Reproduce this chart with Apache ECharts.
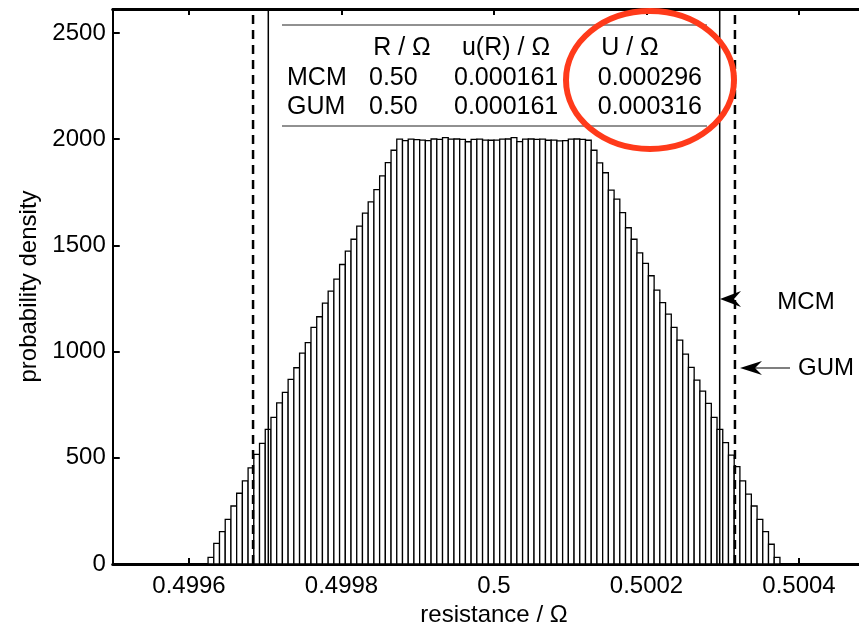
<!DOCTYPE html>
<html>
<head>
<meta charset="utf-8">
<script src="https://cdn.jsdelivr.net/npm/echarts@6/dist/echarts.min.js"></script>
<style>html,body{margin:0;padding:0;background:#fff;}#chart{width:859px;height:625px;}</style>
</head>
<body>
<div id="chart"></div>
<script>
// ---- data ----
const binStart = 0.499625;
const binWidth = 0.0000075;
const density = [31,97,152,210,273,333,391,453,516,568,634,690,759,808,869,924,993,1042,1114,1164,1228,1285,1341,1410,1473,1529,1591,1652,1705,1763,1827,1890,1948,
  2000,1993,2000,1998,1996,1993,2001,1999,2007,2000,2001,1999,1988,1999,2000,1996,1995,1996,2000,2001,2007,1989,2000,2001,1999,2000,1995,1996,1992,1993,2000,2001,1999,1995,
  1948,1889,1842,1760,1718,1654,1583,1529,1465,1415,1357,1289,1231,1176,1114,1054,988,926,866,814,756,690,634,571,513,458,391,329,273,210,152,93,31];
const xTickValues = [0.4996, 0.4998, 0.5, 0.5002, 0.5004];
const xTickLabels = ['0.4996', '0.4998', '0.5', '0.5002', '0.5004'];
const yTickValues = [0, 500, 1000, 1500, 2000, 2500];
const methods = ['MCM', 'GUM'];
const meanR = [0.50, 0.50];
const stdU = ['0.000161', '0.000161'];
const expandedU = [0.000296, 0.000316];
const tableHeader = ['R / \u03A9', 'u(R) / \u03A9', 'U / \u03A9'];

const FONT = "'Liberation Sans', Arial, Helvetica, sans-serif";
const Y_MAX = 2613;
const chart = echarts.init(document.getElementById('chart'), null, {renderer: 'canvas'});

const bins = density.map((d, i) => [binStart + i * binWidth, binStart + (i + 1) * binWidth, d]);
const xLabelMap = {};
xTickValues.forEach((v, i) => { xLabelMap[v.toFixed(4)] = xTickLabels[i]; });

function vLine(x, style) {
  return {type: 'line', xAxisIndex: 0, yAxisIndex: 0, z: 4, symbol: 'none', silent: true,
    data: [[x, 0], [x, Y_MAX]], lineStyle: style};
}

const option = {
  backgroundColor: '#fff',
  animation: false,
  grid: {left: 112.75, width: 762.5, top: 9, bottom: 61, containLabel: false, outerBoundsMode: 'none'},
  xAxis: [{
    type: 'value', min: 0.4995, max: 0.5005, position: 'bottom',
    name: 'resistance / \u03A9', nameLocation: 'middle', nameGap: 35,
    nameTextStyle: {fontFamily: FONT, fontSize: 24, color: '#000'},
    axisLine: {show: true, lineStyle: {color: '#000', width: 3}},
    axisTick: {show: true, inside: true, length: 6, customValues: xTickValues, lineStyle: {color: '#000', width: 2}},
    axisLabel: {show: true, customValues: xTickValues, margin: 10, fontFamily: FONT, fontSize: 24, color: '#000',
      formatter: v => xLabelMap[Number(v).toFixed(4)] || ''},
    splitLine: {show: false}
  }, {
    type: 'value', min: 0.4995, max: 0.5005, position: 'top',
    axisLine: {show: true, lineStyle: {color: '#000', width: 3}},
    axisTick: {show: true, inside: true, length: 6, customValues: xTickValues, lineStyle: {color: '#000', width: 2}},
    axisLabel: {show: false},
    splitLine: {show: false}
  }],
  yAxis: [{
    type: 'value', min: 0, max: Y_MAX,
    name: 'probability density', nameLocation: 'middle', nameGap: 64,
    nameTextStyle: {fontFamily: FONT, fontSize: 24, color: '#000'},
    axisLine: {show: true, lineStyle: {color: '#000', width: 2}},
    axisTick: {show: true, inside: true, length: 7, customValues: yTickValues, lineStyle: {color: '#000', width: 2}},
    axisLabel: {show: true, customValues: yTickValues, margin: 7, fontFamily: FONT, fontSize: 24, color: '#000',
      formatter: v => String(Math.round(v))},
    splitLine: {show: false}
  }],
  series: [{
    type: 'custom',
    xAxisIndex: 0, yAxisIndex: 0,
    data: bins,
    encode: {x: [0, 1], y: 2},
    z: 3,
    renderItem: function (params, api) {
      const p0 = api.coord([api.value(0), api.value(2)]);
      const p1 = api.coord([api.value(1), 0]);
      return {type: 'rect', shape: {x: p0[0], y: p0[1], width: p1[0] - p0[0], height: p1[1] - p0[1]},
        style: {fill: '#fff', stroke: '#000', lineWidth: 1.3}};
    }
  },
  vLine(meanR[0] - expandedU[0], {type: 'solid', color: '#000', width: 1.5}),
  vLine(meanR[0] + expandedU[0], {type: 'solid', color: '#000', width: 1.5}),
  vLine(meanR[1] - expandedU[1], {type: [9, 6], color: '#000', width: 2.5}),
  vLine(meanR[1] + expandedU[1], {type: [9, 6], color: '#000', width: 2.5})
  ],
  graphic: []
};

// table
const g = [];
const ts = (x, y, text, align) => ({type: 'text', x: x, y: y, z: 20,
  style: {text: text, fontFamily: FONT, fontSize: 25, fill: '#000', textAlign: align || 'left', textVerticalAlign: 'middle'}});
g.push({type: 'line', z: 20, shape: {x1: 282, y1: 25, x2: 707, y2: 25}, style: {stroke: '#222', lineWidth: 1}});
g.push({type: 'line', z: 20, shape: {x1: 282, y1: 126, x2: 707, y2: 126}, style: {stroke: '#222', lineWidth: 1}});
g.push(ts(402, 48, tableHeader[0], 'center'));
g.push(ts(506, 48, tableHeader[1], 'center'));
g.push(ts(630, 48, tableHeader[2], 'center'));
const rowY = [78, 107];
methods.forEach((m, i) => {
  g.push(ts(287, rowY[i], m));
  g.push(ts(369, rowY[i], meanR[i].toFixed(2)));
  g.push(ts(454, rowY[i], stdU[i]));
  g.push(ts(702, rowY[i], expandedU[i].toFixed(6), 'right'));
});
// red ellipse
g.push({type: 'ellipse', z: 30, shape: {cx: 650, cy: 80, rx: 84, ry: 69}, style: {fill: 'none', stroke: '#ff3a1a', lineWidth: 6}});
// arrows and labels
g.push({type: 'polygon', z: 25, shape: {points: [[720, 299], [741, 291], [734, 299], [741, 307]]}, style: {fill: '#000'}});
g.push({type: 'text', z: 25, x: 806, y: 302, style: {text: 'MCM', fontFamily: FONT, fontSize: 24, fill: '#000', textAlign: 'center', textVerticalAlign: 'middle'}});
g.push({type: 'line', z: 25, shape: {x1: 752, y1: 368, x2: 790, y2: 368}, style: {stroke: '#000', lineWidth: 1.2}});
g.push({type: 'polygon', z: 25, shape: {points: [[740, 368], [762, 361], [755, 368], [762, 375]]}, style: {fill: '#000'}});
g.push({type: 'text', z: 25, x: 826, y: 368, style: {text: 'GUM', fontFamily: FONT, fontSize: 24, fill: '#000', textAlign: 'center', textVerticalAlign: 'middle'}});
option.graphic = g;

chart.setOption(option);
</script>
</body>
</html>
